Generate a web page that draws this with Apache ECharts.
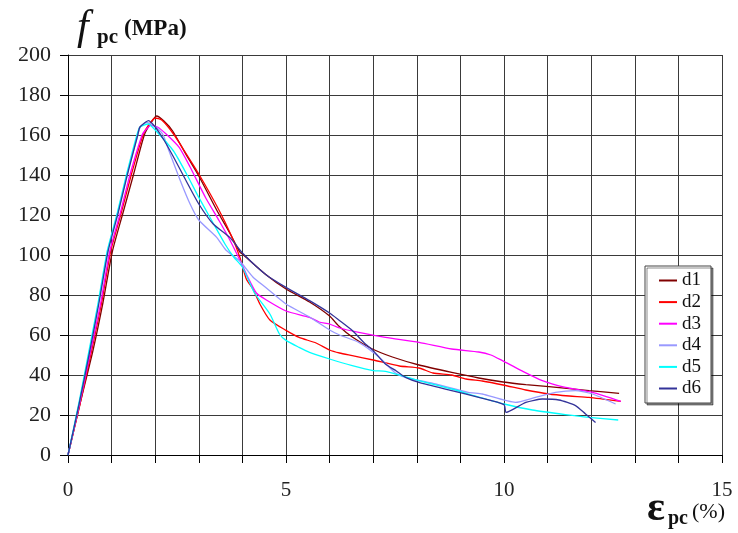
<!DOCTYPE html>
<html>
<head>
<meta charset="utf-8">
<script src="https://cdn.jsdelivr.net/npm/echarts@6/dist/echarts.min.js"></script>
<style>
  html, body { margin: 0; padding: 0; background: #fff; }
  #chart { width: 738px; height: 533px; }
</style>
</head>
<body>
<div id="chart"></div>
<script>
// Stress–strain curves of six specimens: [strain (%), stress (MPa)]
const d1 = [[0,0],[0.28,26],[0.57,52],[0.8,76],[1.02,102],[1.26,121],[1.5,140],[1.75,160],[1.9,166],[2.03,169.5],[2.2,167],[2.4,162],[2.7,150.5],[3.0,139.5],[3.41,122.5],[3.71,111],[3.94,101.5],[4.0,100.5],[4.55,90],[5.0,83],[5.54,76.5],[6.0,69.5],[6.21,64.5],[6.52,59],[6.98,53],[7.44,49],[8.05,45],[8.8,41.3],[9.42,38.5],[9.98,36.5],[10.5,35.2],[11.03,34.2],[11.5,33.2],[11.95,32.2],[12.64,30.8]];
const d2 = [[0,0],[0.27,25],[0.54,52],[0.77,76],[0.98,102],[1.22,121],[1.45,140],[1.72,160],[1.85,165],[2.0,168.5],[2.15,167.5],[2.42,160.5],[2.7,151],[3.0,140.5],[3.45,123],[3.75,109.5],[3.94,99],[4.09,88],[4.24,83],[4.4,75.5],[4.63,67.5],[5.0,62.3],[5.3,58.8],[5.69,56],[6.0,52.5],[6.23,51],[6.52,49.7],[7.0,47.5],[7.6,44.5],[8.05,43.5],[8.37,41],[8.8,40],[9.13,38],[9.5,37],[9.98,35],[10.5,32.5],[11.03,30.5],[11.5,29.5],[11.95,28.8],[12.68,26.8]];
const d3 = [[0,0],[0.26,25],[0.52,52],[0.75,76],[0.96,102],[1.2,121],[1.42,140],[1.7,160],[1.8,163],[1.9,164.8],[2.05,164],[2.25,160.5],[2.55,153.8],[2.8,144],[3.16,128.5],[3.47,117],[3.7,108],[3.94,97.5],[4.1,90],[4.32,81],[4.55,77.5],[5.0,72],[5.54,68.8],[5.76,66.5],[6.0,65.5],[6.23,63.5],[6.67,61.3],[7.28,58.8],[8.05,56.3],[8.8,53],[9.42,51.5],[9.7,50],[9.96,47.2],[10.4,42.2],[10.88,37.2],[11.41,33.8],[12.03,31.3],[12.68,26.8]];
const d4 = [[0,0],[0.25,25],[0.49,52],[0.7,76],[0.91,102],[1.14,121],[1.35,140],[1.6,160],[1.66,164],[1.8,166.3],[1.95,165],[2.17,160.5],[2.3,153],[2.57,137.5],[2.8,125.5],[3.0,117.5],[3.41,108.8],[3.62,102.5],[3.94,97],[4.24,89],[4.55,83.5],[5.0,75.5],[5.54,69],[6.0,62.5],[6.23,60],[6.67,56.3],[7.13,49],[7.51,41],[7.74,38.8],[8.43,35.5],[9.18,31.3],[9.5,30.5],[10.26,26.3],[10.72,28.8],[11.18,31.3],[11.64,32.2],[12.03,30.5],[12.56,25.5]];
const d5 = [[0,0],[0.24,25],[0.48,52],[0.69,76],[0.9,102],[1.13,121],[1.34,140],[1.58,160],[1.65,164],[1.84,165.5],[2.0,162.5],[2.42,152],[2.72,140.5],[3.0,128.8],[3.29,117.5],[3.6,105.5],[3.8,99],[4.0,94],[4.28,81],[4.63,70.5],[4.85,60.5],[5.0,57.3],[5.3,53.8],[5.54,51.3],[6.0,48],[6.52,44.7],[7.0,42.2],[7.28,41.8],[8.05,37.2],[8.8,33],[9.42,29],[10.0,25.5],[10.65,22.5],[11.41,20.2],[11.95,18.8],[12.62,17.5]];
const d6 = [[0,0],[0.25,25],[0.5,52],[0.71,76],[0.92,102],[1.15,121],[1.36,140],[1.6,160],[1.65,164],[1.85,167.2],[2.0,164],[2.2,157.5],[2.42,149],[2.7,137.5],[3.0,125.5],[3.33,115.5],[3.71,108.8],[4.0,101],[4.55,90],[5.0,83.8],[5.54,77.2],[6.0,71],[6.21,67.5],[6.52,62.2],[6.82,55.5],[7.0,52.2],[7.28,45.5],[7.53,42],[7.74,38.8],[8.05,36.3],[8.8,32.2],[9.42,28.8],[10.0,25.2],[10.05,21.3],[10.5,26.3],[10.88,28],[11.26,27.5],[11.64,24.7],[11.87,20.5],[12.1,16.3]];

const seriesNames = ['d1', 'd2', 'd3', 'd4', 'd5', 'd6'];
const seriesData = [d1, d2, d3, d4, d5, d6];
const seriesColors = ['#800000', '#ff0000', '#ff00ff', '#9999ff', '#00ffff', '#333399'];

const xTickLabels = [0, 5, 10, 15];
const yTickLabels = [0, 20, 40, 60, 80, 100, 120, 140, 160, 180, 200];

const serif = '"Liberation Serif", "Times New Roman", serif';
const gridColor = '#3a3a3a';

const chart = echarts.init(document.getElementById('chart'), null, { renderer: 'canvas' });

chart.setOption({
  animation: false,
  backgroundColor: '#ffffff',
  grid: { left: 68, right: 16, top: 55, bottom: 78, containLabel: false },
  xAxis: {
    type: 'value',
    min: 0, max: 15, interval: 1,
    axisLine: { show: true, lineStyle: { color: '#000', width: 1 } },
    axisTick: { show: true, inside: false, length: 8, lineStyle: { color: '#000' } },
    axisLabel: {
      margin: 25,
      fontFamily: serif, fontSize: 21, color: '#222',
      formatter: v => (xTickLabels.indexOf(v) >= 0 ? String(v) : '')
    },
    splitLine: { show: true, lineStyle: { color: gridColor, width: 1 } }
  },
  yAxis: {
    type: 'value',
    min: 0, max: 200, interval: 20,
    axisLine: { show: true, lineStyle: { color: '#000', width: 1 } },
    axisTick: { show: true, inside: false, length: 8, lineStyle: { color: '#000' } },
    axisLabel: {
      margin: 17,
      fontFamily: serif, fontSize: 22, color: '#222',
      formatter: v => (yTickLabels.indexOf(v) >= 0 ? String(v) : '')
    },
    splitLine: { show: true, lineStyle: { color: gridColor, width: 1 } }
  },
  legend: {
    orient: 'vertical',
    left: 645, top: 266,
    padding: [5, 10, 5, 14],
    itemGap: 2.6,
    itemWidth: 18,
    itemHeight: 2,
    icon: 'rect',
    backgroundColor: '#ffffff',
    borderColor: '#444',
    borderWidth: 1,
    shadowColor: 'rgba(0,0,0,0.45)',
    shadowBlur: 0,
    shadowOffsetX: 2,
    shadowOffsetY: 2,
    textStyle: { fontFamily: serif, fontSize: 19, lineHeight: 18, color: '#111' },
    data: seriesNames
  },
  series: seriesNames.map((name, i) => ({
    name: name,
    type: 'line',
    data: seriesData[i],
    symbol: 'none',
    showSymbol: false,
    smooth: 0.2,
    clip: true,
    color: seriesColors[i],
    itemStyle: { color: seriesColors[i] },
    lineStyle: { color: seriesColors[i], width: 1.3 }
  })),
  graphic: [
    { type: 'text', left: 77, top: 7,
      style: { text: 'f', font: 'italic 42px ' + serif, fill: '#111' } },
    { type: 'text', left: 97, top: 27,
      style: { text: 'pc', font: 'bold 21px ' + serif, fill: '#111' } },
    { type: 'text', left: 124, top: 18,
      style: { text: '(MPa)', font: 'bold 23px ' + serif, fill: '#111' } },
    { type: 'text', left: 647, top: 488,
      style: { text: 'ε', font: 'bold 42px ' + serif, fill: '#111' } },
    { type: 'text', left: 668, top: 509,
      style: { text: 'pc', font: 'bold 20px ' + serif, fill: '#111' } },
    { type: 'text', left: 692, top: 501,
      style: { text: '(%)', font: '22px ' + serif, fill: '#111' } }
  ]
});
</script>
</body>
</html>
